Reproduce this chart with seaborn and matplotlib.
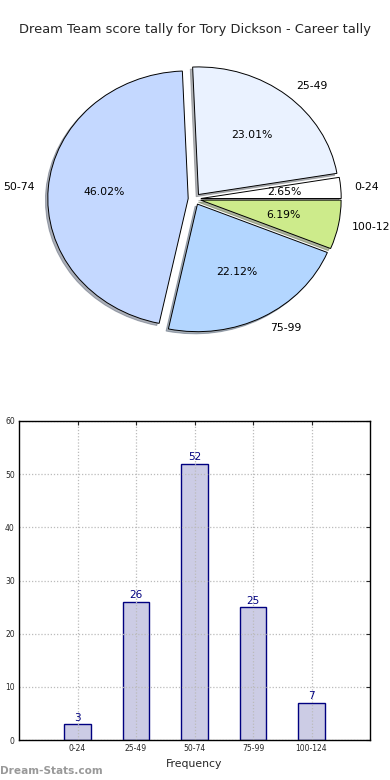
import matplotlib
matplotlib.use("Agg")
import matplotlib.pyplot as plt
import seaborn as sns
import pandas as pd

categories = ["0-24", "25-49", "50-74", "75-99", "100-124"]
counts = [3, 26, 52, 25, 7]
pie_colors = ["#FFFFFF", "#EAF2FF", "#C4D8FF", "#B3D6FF", "#CDEB8B"]
title = "Dream Team score tally for Tory Dickson - Career tally"
yticks = [0, 10, 20, 30, 40, 50, 60]

sns.set_style("white")
plt.rcParams['font.family'] = ['DejaVu Sans']

fig = plt.figure(figsize=(3.9, 7.8), dpi=100)
ax1 = fig.add_axes([19/390, 1 - 358.5/780, 351/390, 319/780])
ax2 = fig.add_axes([19/390, 1 - 740/780, 351/390, 319/780])

# Pie
wedges, texts, autotexts = ax1.pie(
    counts, labels=categories, colors=pie_colors, explode=[0.045] * len(counts),
    autopct="%.2f%%", shadow=dict(ox=-0.012, oy=-0.012, shade=0.55), startangle=0,
    wedgeprops=dict(edgecolor="black", linewidth=0.7),
    textprops=dict(fontsize=7.8, color="black"))
ax1.set_aspect("auto")
ax1.set_xlim(-1.25, 1.25)
ax1.set_ylim(-1.25, 1.25)
ax1.axis("off")

fig.text(0.5, 1 - 30/780, title, ha="center", va="center", fontsize=9.4)

# Bar chart
df = pd.DataFrame({"cat": categories, "count": counts})
sns.barplot(data=df, x="cat", y="count", ax=ax2, color="#CCCCE5",
            edgecolor="#000080", linewidth=1.0, width=0.45, saturation=1)
ax2.bar_label(ax2.containers[0], padding=1, color="#000080", fontsize=7.5)
ax2.set_xlim(-1, 5)
ax2.set_ylim(0, 60)
ax2.set_yticks(yticks)
ax2.set_xlabel("Frequency", fontsize=7.8)
ax2.set_ylabel("")
ax2.tick_params(axis="both", labelsize=5.5, direction="in", length=3, pad=3)
ax2.tick_params(axis="both", which="both", top=True, right=True)
ax2.grid(True, linestyle=(0, (1, 1.5)), color="#BBBBBB", linewidth=0.9)
ax2.set_axisbelow(False)
for s in ax2.spines.values():
    s.set_color("black")
    s.set_linewidth(1.0)
    s.set_zorder(5)

fig.text(0.0, 1 - 771/780, "Dream-Stats.com", ha="left", va="center",
         fontsize=7.6, color="#999999", fontweight="bold")

fig.savefig("out.png", dpi=100)
